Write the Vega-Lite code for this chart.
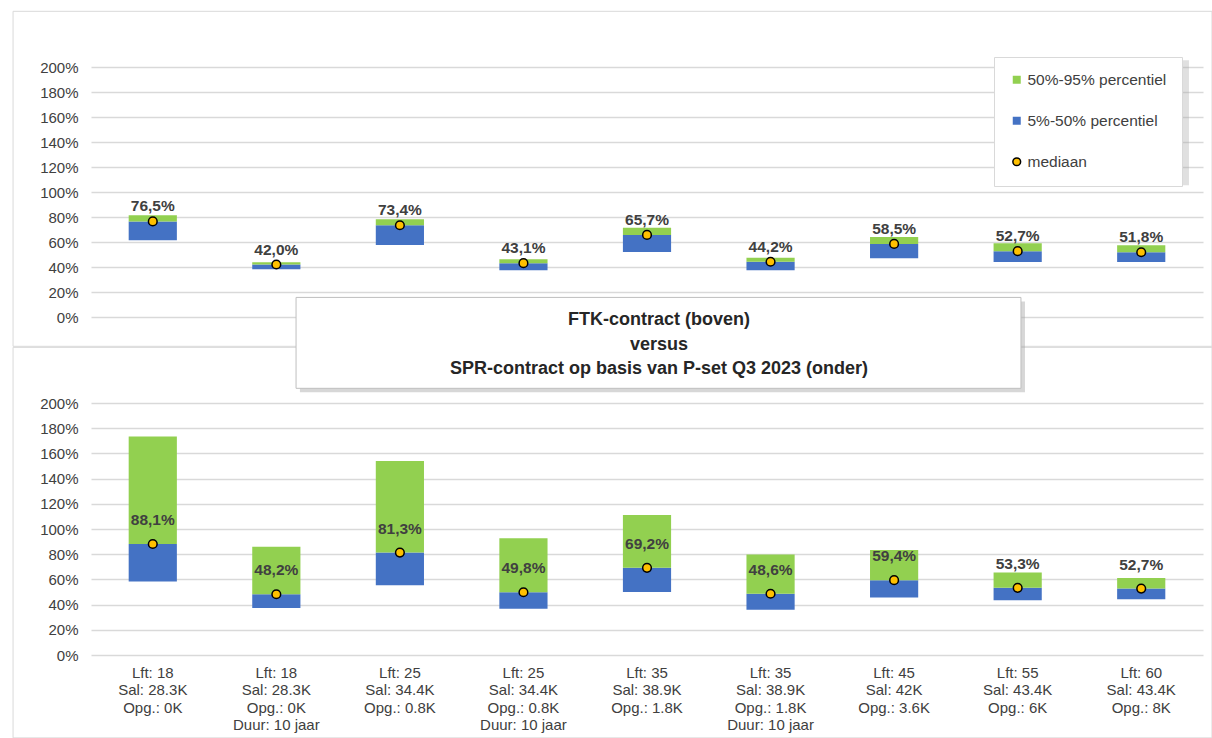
{
  "$schema": "https://vega.github.io/schema/vega-lite/v6.json",
  "background": "white",
  "padding": {"left": 12, "top": 10, "right": 0, "bottom": 0},
  "bounds": "flush",
  "spacing": 86,
  "config": {
    "locale": {"number": {"decimal": ",", "thousands": ".", "grouping": [3], "currency": ["€", ""]}},
    "view": {"stroke": null},
    "font": "Liberation Sans",
    "axis": {"labelFont": "Liberation Sans", "labelColor": "#404040", "labelFontSize": 15, "labelOverlap": false},
    "axisY": {"tickCount": 12, "labelOverlap": false, "grid": true, "gridColor": "#d9d9d9", "gridWidth": 1.5}
  },
  "datasets": {
    "bars": [
      {"panel": "FTK", "cat": "Lft: 18|Sal: 28.3K|Opg.: 0K", "p5": 0.615, "p50": 0.765, "p95": 0.815},
      {"panel": "FTK", "cat": "Lft: 18|Sal: 28.3K|Opg.: 0K|Duur: 10 jaar", "p5": 0.382, "p50": 0.420, "p95": 0.438},
      {"panel": "FTK", "cat": "Lft: 25|Sal: 34.4K|Opg.: 0.8K", "p5": 0.576, "p50": 0.734, "p95": 0.782},
      {"panel": "FTK", "cat": "Lft: 25|Sal: 34.4K|Opg.: 0.8K|Duur: 10 jaar", "p5": 0.374, "p50": 0.431, "p95": 0.462},
      {"panel": "FTK", "cat": "Lft: 35|Sal: 38.9K|Opg.: 1.8K", "p5": 0.520, "p50": 0.657, "p95": 0.715},
      {"panel": "FTK", "cat": "Lft: 35|Sal: 38.9K|Opg.: 1.8K|Duur: 10 jaar", "p5": 0.374, "p50": 0.442, "p95": 0.475},
      {"panel": "FTK", "cat": "Lft: 45|Sal: 42K|Opg.: 3.6K", "p5": 0.470, "p50": 0.585, "p95": 0.640},
      {"panel": "FTK", "cat": "Lft: 55|Sal: 43.4K|Opg.: 6K", "p5": 0.440, "p50": 0.527, "p95": 0.590},
      {"panel": "FTK", "cat": "Lft: 60|Sal: 43.4K|Opg.: 8K", "p5": 0.440, "p50": 0.518, "p95": 0.574},
      {"panel": "SPR", "cat": "Lft: 18|Sal: 28.3K|Opg.: 0K", "p5": 0.583, "p50": 0.881, "p95": 1.735},
      {"panel": "SPR", "cat": "Lft: 18|Sal: 28.3K|Opg.: 0K|Duur: 10 jaar", "p5": 0.373, "p50": 0.482, "p95": 0.859},
      {"panel": "SPR", "cat": "Lft: 25|Sal: 34.4K|Opg.: 0.8K", "p5": 0.554, "p50": 0.813, "p95": 1.540},
      {"panel": "SPR", "cat": "Lft: 25|Sal: 34.4K|Opg.: 0.8K|Duur: 10 jaar", "p5": 0.368, "p50": 0.498, "p95": 0.926},
      {"panel": "SPR", "cat": "Lft: 35|Sal: 38.9K|Opg.: 1.8K", "p5": 0.500, "p50": 0.692, "p95": 1.112},
      {"panel": "SPR", "cat": "Lft: 35|Sal: 38.9K|Opg.: 1.8K|Duur: 10 jaar", "p5": 0.360, "p50": 0.486, "p95": 0.798},
      {"panel": "SPR", "cat": "Lft: 45|Sal: 42K|Opg.: 3.6K", "p5": 0.456, "p50": 0.594, "p95": 0.833},
      {"panel": "SPR", "cat": "Lft: 55|Sal: 43.4K|Opg.: 6K", "p5": 0.434, "p50": 0.533, "p95": 0.655},
      {"panel": "SPR", "cat": "Lft: 60|Sal: 43.4K|Opg.: 8K", "p5": 0.442, "p50": 0.527, "p95": 0.612}
    ],
    "titel": [
      {"tekst": "FTK-contract (boven)\nversus\nSPR-contract op basis van P-set Q3 2023 (onder)"}
    ]
  },
  "vconcat": [
    {
      "width": 1112,
      "height": 250,
      "resolve": {"scale": {"x": "independent"}},
      "layer": [
        {
          "data": {"values": [{"item": "kader"}]},
          "mark": {"type": "rect", "filled": false, "stroke": "#d9d9d9", "strokeWidth": 1, "clip": false},
          "encoding": {
            "x": {"datum": -0.0701, "type": "quantitative", "scale": {"domain": [0, 1]}, "axis": null},
            "x2": {"datum": 1.0081},
            "y": {"datum": 2.4456, "type": "quantitative", "scale": {"domain": [0, 2]},
                  "axis": {"values": [0, 0.2, 0.4, 0.6, 0.8, 1, 1.2, 1.4, 1.6, 1.8, 2], "tickCount": 12, "grid": true, "format": ".0%", "title": null, "domain": false, "ticks": false, "gridColor": "#d9d9d9", "gridWidth": 1.5, "labelPadding": 13, "labelOverlap": false}},
            "y2": {"datum": -0.2344}
          }
        },
        {
          "data": {"values": [{"item": "schaduw"}]},
          "mark": {"type": "rect", "fill": "#a6a6a6", "opacity": 0.35, "clip": false},
          "encoding": {
            "x": {"datum": 0.8148, "type": "quantitative", "scale": {"domain": [0, 1]}, "axis": null},
            "x2": {"datum": 0.9874},
            "y": {"datum": 2.054, "type": "quantitative", "scale": {"domain": [0, 2]}},
            "y2": {"datum": 1.054}
          }
        },
        {
          "data": {"name": "bars"},
          "transform": [{"filter": "datum.panel === 'FTK'"}],
          "mark": {"type": "bar", "width": {"band": 0.39}},
          "encoding": {
            "x": {"field": "cat", "type": "nominal", "sort": null, "scale": {"paddingInner": 0, "paddingOuter": 0}, "axis": null},
            "y": {"field": "p5", "type": "quantitative", "scale": {"domain": [0, 2]},
                  "axis": {"values": [0, 0.2, 0.4, 0.6, 0.8, 1, 1.2, 1.4, 1.6, 1.8, 2], "tickCount": 12, "grid": true, "format": ".0%", "title": null, "domain": false, "ticks": false, "gridColor": "#d9d9d9", "gridWidth": 1.5, "labelPadding": 13, "labelOverlap": false}},
            "y2": {"field": "p50"},
            "color": {"datum": "5%-50% percentiel", "type": "nominal",
                      "scale": {"domain": ["50%-95% percentiel", "5%-50% percentiel", "mediaan"], "range": ["#92D050", "#4472C4", "#FFC000"]},
                      "legend": {"orient": "none", "legendX": 903, "legendY": -10, "title": null, "fillColor": "white", "strokeColor": "#d9d9d9",
                                 "padding": 15, "rowPadding": 24, "labelFontSize": 15.5, "labelFont": "Liberation Sans", "labelColor": "#404040",
                                 "symbolType": "square", "symbolSize": 64, "labelOffset": 3,
                                 "encode": {"symbols": {"update": {
                                   "shape": {"signal": "datum.value === 'mediaan' ? 'circle' : 'square'"},
                                   "stroke": {"signal": "datum.value === 'mediaan' ? 'black' : 'transparent'"},
                                   "strokeWidth": {"value": 1.5},
                                   "size": {"signal": "datum.value === 'mediaan' ? 60 : 64"}}}}}}
          }
        },
        {
          "data": {"name": "bars"},
          "transform": [{"filter": "datum.panel === 'FTK'"}],
          "mark": {"type": "bar", "width": {"band": 0.39}},
          "encoding": {
            "x": {"field": "cat", "type": "nominal", "sort": null, "scale": {"paddingInner": 0, "paddingOuter": 0}, "axis": null},
            "y": {"field": "p50", "type": "quantitative", "scale": {"domain": [0, 2]}},
            "y2": {"field": "p95"},
            "color": {"datum": "50%-95% percentiel", "type": "nominal"}
          }
        },
        {
          "data": {"name": "bars"},
          "transform": [{"filter": "datum.panel === 'FTK'"}],
          "mark": {"type": "point", "filled": true, "size": 75, "stroke": "black", "strokeWidth": 1.5, "opacity": 1},
          "encoding": {
            "x": {"field": "cat", "type": "nominal", "sort": null, "scale": {"paddingInner": 0, "paddingOuter": 0}, "axis": null},
            "y": {"field": "p50", "type": "quantitative", "scale": {"domain": [0, 2]}},
            "color": {"datum": "mediaan", "type": "nominal"}
          }
        },
        {
          "data": {"name": "bars"},
          "transform": [{"filter": "datum.panel === 'FTK'"}],
          "mark": {"type": "text", "fontWeight": "bold", "fontSize": 15.5, "color": "#404040", "dy": -15, "baseline": "middle"},
          "encoding": {
            "x": {"field": "cat", "type": "nominal", "sort": null, "scale": {"paddingInner": 0, "paddingOuter": 0}, "axis": null},
            "y": {"field": "p50", "type": "quantitative", "scale": {"domain": [0, 2]}},
            "text": {"field": "p50", "type": "quantitative", "format": ".1%"}
          }
        }
      ]
    },
    {
      "width": 1112,
      "height": 252,
      "resolve": {"scale": {"x": "independent"}},
      "layer": [
        {
          "data": {"values": [{"item": "kader"}]},
          "mark": {"type": "rect", "filled": false, "stroke": "#d9d9d9", "strokeWidth": 1, "clip": false},
          "encoding": {
            "x": {"datum": -0.0701, "type": "quantitative", "scale": {"domain": [0, 1]}, "axis": null},
            "x2": {"datum": 1.0081},
            "y": {"datum": 2.4415, "type": "quantitative", "scale": {"domain": [0, 2]},
                  "axis": {"values": [0, 0.2, 0.4, 0.6, 0.8, 1, 1.2, 1.4, 1.6, 1.8, 2], "tickCount": 12, "grid": true, "format": ".0%", "title": null, "domain": false, "ticks": false, "gridColor": "#d9d9d9", "gridWidth": 1.5, "labelPadding": 13, "labelOverlap": false}},
            "y2": {"datum": -0.658}
          }
        },
        {
          "data": {"name": "bars"},
          "transform": [{"filter": "datum.panel === 'SPR'"}],
          "mark": {"type": "bar", "width": {"band": 0.39}},
          "encoding": {
            "x": {"field": "cat", "type": "nominal", "sort": null, "scale": {"paddingInner": 0, "paddingOuter": 0},
                  "axis": {"labelExpr": "split(datum.label, '|')", "labelAngle": 0, "labelLineHeight": 17.5, "labelBaseline": "top", "labelPadding": 10, "ticks": false, "domain": false, "grid": false, "title": null, "labelOverlap": false, "labelLimit": 200}},
            "y": {"field": "p5", "type": "quantitative", "scale": {"domain": [0, 2]},
                  "axis": {"values": [0, 0.2, 0.4, 0.6, 0.8, 1, 1.2, 1.4, 1.6, 1.8, 2], "tickCount": 12, "grid": true, "format": ".0%", "title": null, "domain": false, "ticks": false, "gridColor": "#d9d9d9", "gridWidth": 1.5, "labelPadding": 13, "labelOverlap": false}},
            "y2": {"field": "p50"},
            "color": {"datum": "5%-50% percentiel", "type": "nominal"}
          }
        },
        {
          "data": {"name": "bars"},
          "transform": [{"filter": "datum.panel === 'SPR'"}],
          "mark": {"type": "bar", "width": {"band": 0.39}},
          "encoding": {
            "x": {"field": "cat", "type": "nominal", "sort": null, "scale": {"paddingInner": 0, "paddingOuter": 0}, "axis": null},
            "y": {"field": "p50", "type": "quantitative", "scale": {"domain": [0, 2]}},
            "y2": {"field": "p95"},
            "color": {"datum": "50%-95% percentiel", "type": "nominal"}
          }
        },
        {
          "data": {"name": "bars"},
          "transform": [{"filter": "datum.panel === 'SPR'"}],
          "mark": {"type": "point", "filled": true, "size": 75, "stroke": "black", "strokeWidth": 1.5, "opacity": 1},
          "encoding": {
            "x": {"field": "cat", "type": "nominal", "sort": null, "scale": {"paddingInner": 0, "paddingOuter": 0}, "axis": null},
            "y": {"field": "p50", "type": "quantitative", "scale": {"domain": [0, 2]}},
            "color": {"datum": "mediaan", "type": "nominal"}
          }
        },
        {
          "data": {"name": "bars"},
          "transform": [{"filter": "datum.panel === 'SPR'"}],
          "mark": {"type": "text", "fontWeight": "bold", "fontSize": 15.5, "color": "#404040", "dy": -24, "baseline": "middle"},
          "encoding": {
            "x": {"field": "cat", "type": "nominal", "sort": null, "scale": {"paddingInner": 0, "paddingOuter": 0}, "axis": null},
            "y": {"field": "p50", "type": "quantitative", "scale": {"domain": [0, 2]}},
            "text": {"field": "p50", "type": "quantitative", "format": ".1%"}
          }
        },
        {
          "data": {"values": [{"item": "schaduw"}]},
          "mark": {"type": "rect", "fill": "#a6a6a6", "opacity": 0.45, "clip": false},
          "encoding": {
            "x": {"datum": 0.1879, "type": "quantitative", "scale": {"domain": [0, 1]}, "axis": null},
            "x2": {"datum": 0.8399},
            "y": {"datum": 2.806, "type": "quantitative", "scale": {"domain": [0, 2]}},
            "y2": {"datum": 2.0848}
          }
        },
        {
          "data": {"values": [{"item": "titelkader"}]},
          "mark": {"type": "rect", "fill": "white", "stroke": "#bfbfbf", "strokeWidth": 1, "clip": false},
          "encoding": {
            "x": {"datum": 0.1844, "type": "quantitative", "scale": {"domain": [0, 1]}, "axis": null},
            "x2": {"datum": 0.8363},
            "y": {"datum": 2.838, "type": "quantitative", "scale": {"domain": [0, 2]}},
            "y2": {"datum": 2.1165}
          }
        },
        {
          "data": {"name": "titel"},
          "mark": {"type": "text", "fontWeight": "bold", "fontSize": 18, "color": "#262626", "lineBreak": "\n", "lineHeight": 24.5, "baseline": "middle", "align": "center", "clip": false},
          "encoding": {
            "x": {"datum": 0.5108, "type": "quantitative", "scale": {"domain": [0, 1]}, "axis": null},
            "y": {"datum": 2.6556, "type": "quantitative", "scale": {"domain": [0, 2]}},
            "text": {"field": "tekst", "type": "nominal"}
          }
        }
      ]
    }
  ]
}
